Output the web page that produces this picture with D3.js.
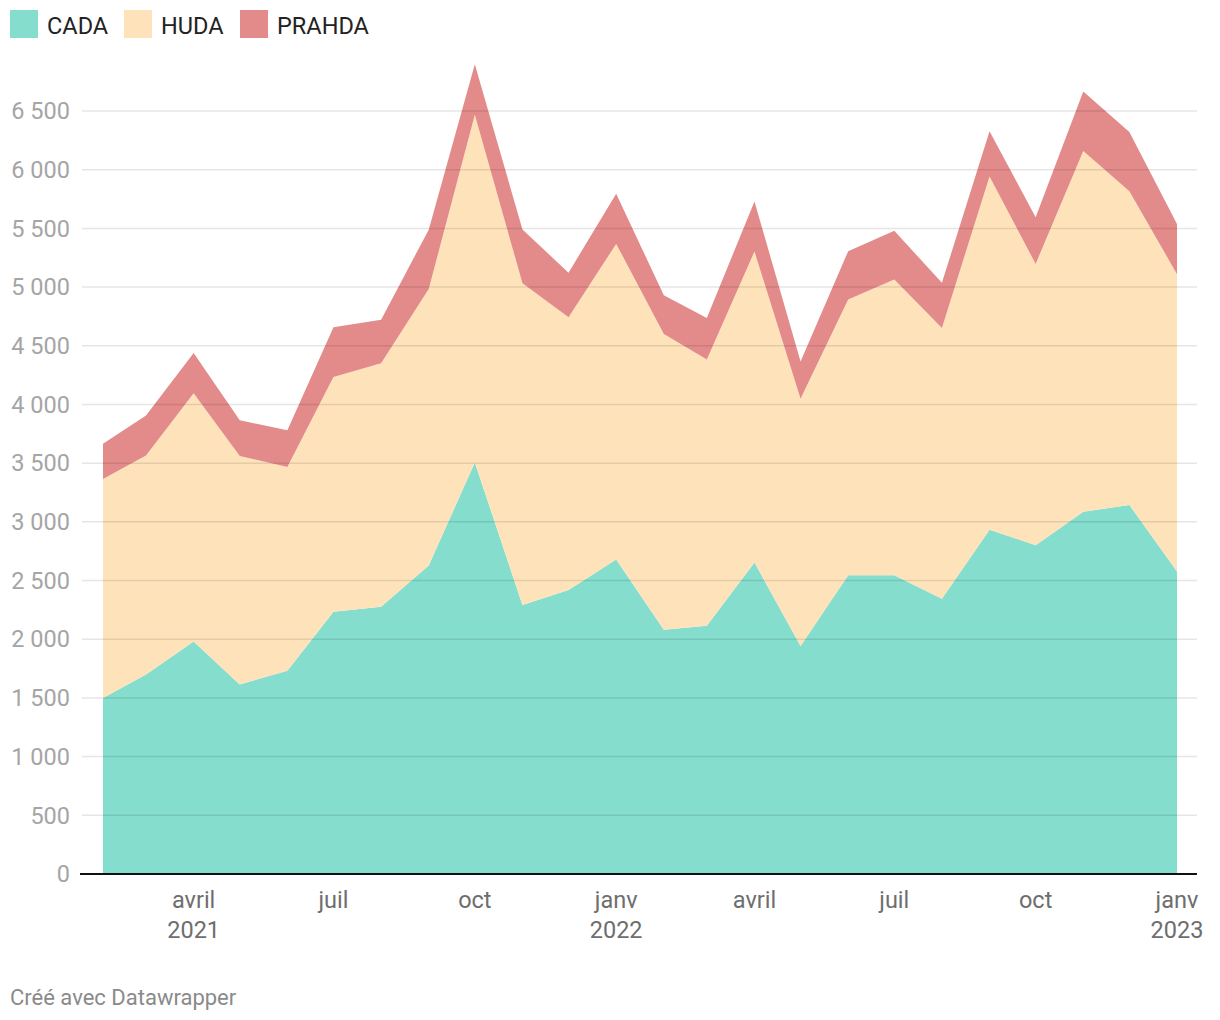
<!DOCTYPE html>
<html>
<head>
<meta charset="utf-8">
<script src="https://cdn.jsdelivr.net/npm/d3@7"></script>
<style>
  html, body { margin: 0; padding: 0; background: #fff; }
  svg { display: block; font-family: Roboto, "Noto Sans", sans-serif; }
</style>
</head>
<body>
<svg id="chart" width="1220" height="1020"></svg>
<script>
const months = ["2021-02","2021-03","2021-04","2021-05","2021-06","2021-07","2021-08","2021-09","2021-10","2021-11","2021-12",
  "2022-01","2022-02","2022-03","2022-04","2022-05","2022-06","2022-07","2022-08","2022-09","2022-10","2022-11","2022-12","2023-01"];
const seriesNames = ["CADA", "HUDA", "PRAHDA"];
const cada   = [1500,1700,1980,1615,1732,2234,2276,2628,3506,2292,2420,2679,2081,2115,2653,1942,2546,2546,2344,2933,2801,3086,3144,2578];
const huda   = [1865,1865,2115,1946,1735,1999,2075,2355,2961,2740,2322,2689,2519,2268,2650,2107,2348,2519,2308,3010,2396,3074,2673,2532];
const prahda = [ 300, 340, 343, 304, 313, 424, 371, 506, 431, 458, 381, 427, 330, 353, 427, 318, 412, 415, 384, 384, 398, 507, 504, 427];
const colors = ["#84ddcd", "#fee3ba", "#e28b8a"];
const yTicks = [0,500,1000,1500,2000,2500,3000,3500,4000,4500,5000,5500,6000,6500];
const xTickMonths = ["2021-04","2021-07","2021-10","2022-01","2022-04","2022-07","2022-10","2023-01"];
const monthLabels = {1:"janv",4:"avril",7:"juil",10:"oct"};

const parse = d3.timeParse("%Y-%m");
const rows = months.map((m, i) => ({date: parse(m), CADA: cada[i], HUDA: huda[i], PRAHDA: prahda[i]}));

const svg = d3.select("#chart");
const x = d3.scaleTime().domain([parse(months[0]), parse(months[months.length-1])]).range([103, 1177]);
const y = d3.scaleLinear().domain([0, 6500]).range([874, 111]);

const stack = d3.stack().keys(seriesNames)(rows);
const area = d3.area().x(d => x(d.data.date)).y0(d => y(d[0])).y1(d => y(d[1]));

svg.append("g").selectAll("path").data(stack).join("path")
  .attr("d", area).attr("fill", (d, i) => colors[i]);

// gridlines on top, translucent
const grid = svg.append("g");
grid.selectAll("line").data(yTicks.filter(t => t > 0)).join("line")
  .attr("x1", 82).attr("x2", 1197)
  .attr("y1", d => y(d)).attr("y2", d => y(d))
  .attr("stroke", "rgba(0,0,0,0.1)").attr("stroke-width", 1.5);

// baseline
svg.append("line").attr("x1", 80).attr("x2", 1197).attr("y1", y(0)).attr("y2", y(0))
  .attr("stroke", "#111").attr("stroke-width", 2);

// y labels
const fmt = v => d3.format(",")(v).replace(/,/g, " ");
svg.append("g").selectAll("text").data(yTicks).join("text")
  .attr("x", 70).attr("y", d => y(d)).attr("dy", "0.35em")
  .attr("text-anchor", "end").attr("fill", "#a5a5a5").attr("font-size", 23.5)
  .text(fmt);

// x labels
const xl = svg.append("g");
xTickMonths.forEach(m => {
  const d = parse(m);
  xl.append("text").attr("x", x(d)).attr("y", 908).attr("text-anchor", "middle")
    .attr("fill", "#6e6e6e").attr("font-size", 23.5).text(monthLabels[d.getMonth()+1]);
  if ((d.getMonth() === 3 && d.getFullYear() === 2021) || d.getMonth() === 0) {
    xl.append("text").attr("x", x(d)).attr("y", 938).attr("text-anchor", "middle")
      .attr("fill", "#6e6e6e").attr("font-size", 23.5).text(d.getFullYear());
  }
});

// legend
const lg = svg.append("g");
const legX = [10, 124, 240];
seriesNames.forEach((s, i) => {
  lg.append("rect").attr("x", legX[i]).attr("y", 10).attr("width", 28).attr("height", 28).attr("fill", colors[i]);
  lg.append("text").attr("x", legX[i] + 37).attr("y", 34).attr("fill", "#222").attr("font-size", 23.5).text(s);
});

// footer
svg.append("text").attr("x", 10).attr("y", 1005).attr("fill", "#8a8a8a").attr("font-size", 22).text("Créé avec Datawrapper");
</script>
</body>
</html>
